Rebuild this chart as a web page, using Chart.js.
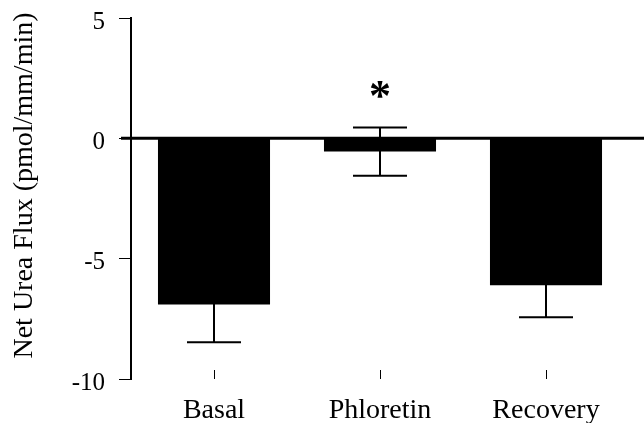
<!DOCTYPE html>
<html>
<head>
<meta charset="utf-8">
<script src="https://cdn.jsdelivr.net/npm/chart.js@4.4.1/dist/chart.umd.min.js"></script>
<style>
  html, body { margin: 0; padding: 0; background: #ffffff; }
  #wrap { width: 644px; height: 423px; }
</style>
</head>
<body>
<div id="wrap"><canvas id="c" width="644" height="423"></canvas></div>
<script>
// ---- data ----
const categories = ['Basal', 'Phloretin', 'Recovery'];
const meanFlux = [-6.9, -0.55, -6.1];
const errorFlux = [1.57, 1.0, 1.33];
const significance = ['', '*', ''];
const yMin = -10;
const yMax = 5;
const yStep = 5;
const yTitle = 'Net Urea Flux (pmol/mm/min)';

const serif = '"Liberation Serif", "Times New Roman", serif';

// error bars, significance mark, zero line, x tick marks and y title
const errorBarPlugin = {
  id: 'errorBars',
  afterDatasetsDraw(chart) {
    const ctx = chart.ctx;
    const x = chart.scales.x, y = chart.scales.y;
    ctx.save();
    ctx.strokeStyle = '#000';
    ctx.lineWidth = 2;
    meanFlux.forEach((m, i) => {
      const cx = x.getPixelForValue(i);
      const top = y.getPixelForValue(m + errorFlux[i]);
      const bot = y.getPixelForValue(m - errorFlux[i]);
      const half = 27;
      ctx.beginPath();
      ctx.moveTo(cx, top); ctx.lineTo(cx, bot);
      ctx.moveTo(cx - half, top); ctx.lineTo(cx + half, top);
      ctx.moveTo(cx - half, bot); ctx.lineTo(cx + half, bot);
      ctx.stroke();
      if (significance[i]) {
        ctx.fillStyle = '#000';
        ctx.font = 'bold 44px ' + serif;
        ctx.textAlign = 'center';
        ctx.textBaseline = 'alphabetic';
        const mt = ctx.measureText(significance[i]);
        const asc = mt.actualBoundingBoxAscent, desc = mt.actualBoundingBoxDescent;
        const centerY = top - 38;
        ctx.fillText(significance[i], cx, centerY + (asc - desc) / 2);
      }
    });
    // zero reference line
    const y0 = y.getPixelForValue(0);
    ctx.lineWidth = 3;
    ctx.beginPath();
    ctx.moveTo(chart.chartArea.left - 10, y0);
    ctx.lineTo(chart.width, y0);
    ctx.stroke();
    // small x tick marks pointing up from the bottom
    ctx.lineWidth = 1;
    const b = chart.chartArea.bottom;
    categories.forEach((c, i) => {
      const cx = Math.round(x.getPixelForValue(i)) + 0.5;
      ctx.beginPath();
      ctx.moveTo(cx, b - 9); ctx.lineTo(cx, b);
      ctx.stroke();
    });
    // y axis title (placed a little above the axis centre, as in the reference)
    ctx.fillStyle = '#000';
    ctx.font = '28px ' + serif;
    ctx.textAlign = 'center';
    ctx.textBaseline = 'middle';
    ctx.translate(25, (chart.chartArea.top + chart.chartArea.bottom) / 2 - 13);
    ctx.rotate(-Math.PI / 2);
    ctx.fillText(yTitle, 0, 0);
    ctx.restore();
  }
};

new Chart(document.getElementById('c'), {
  type: 'bar',
  data: {
    labels: categories,
    datasets: [{
      data: meanFlux,
      backgroundColor: '#000',
      borderWidth: 0,
      barPercentage: 0.675,
      categoryPercentage: 1.0
    }]
  },
  options: {
    responsive: false,
    animation: false,
    devicePixelRatio: 1,
    layout: { padding: { top: 18, right: 15, bottom: 0, left: 0 } },
    plugins: { legend: { display: false }, tooltip: { enabled: false } },
    scales: {
      x: {
        offset: true,
        grid: { display: false },
        border: { display: false },
        ticks: { color: '#000', font: { family: serif, size: 28 }, padding: 7 },
        afterFit(scale) { scale.height = 44; scale.paddingLeft = 0; scale.paddingRight = 0; }
      },
      y: {
        min: yMin, max: yMax,
        ticks: { stepSize: yStep, color: '#000', font: { family: serif, size: 25 }, padding: 14, labelOffset: 4 },
        grid: { drawOnChartArea: false, drawTicks: true, tickLength: 12, color: '#000', lineWidth: 1 },
        border: { display: true, color: '#000', width: 2 },
        title: { display: false },
        afterFit(scale) { scale.width = 131; scale.paddingTop = 0; scale.paddingBottom = 0; }
      }
    }
  },
  plugins: [errorBarPlugin]
});
</script>
</body>
</html>
